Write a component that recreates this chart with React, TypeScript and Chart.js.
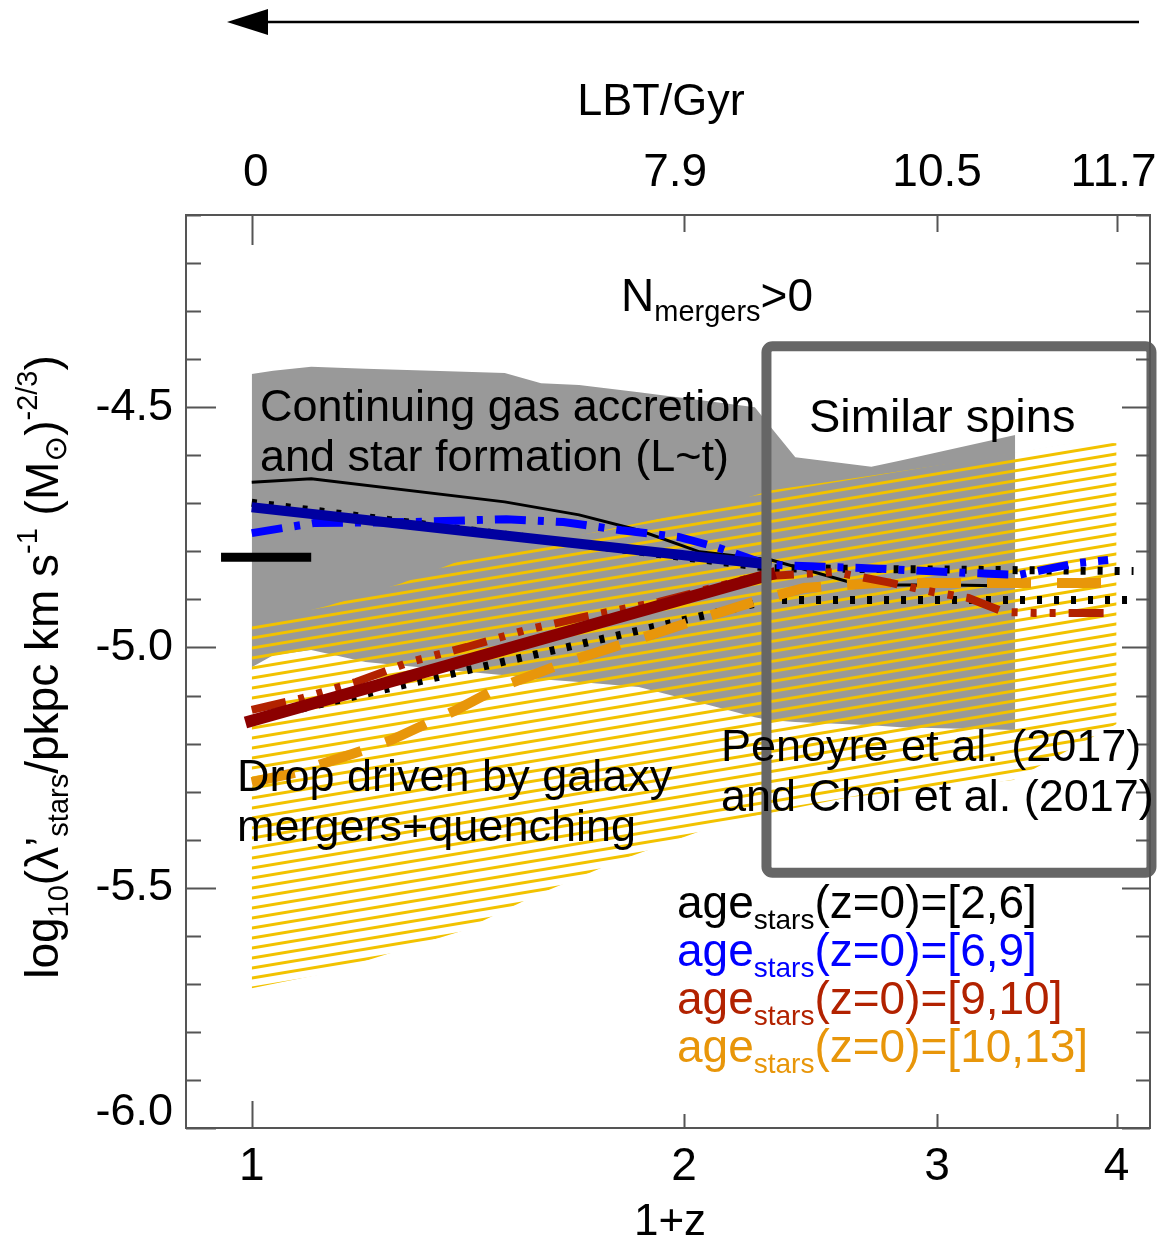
import React, { useEffect, useRef } from "react";
import { Chart, registerables } from "chart.js";

Chart.register(...registerables);

// ---------- data (x = 1+z, y = log10 lambda') ----------
const grayX = [1.0, 1.035, 1.1, 1.2, 1.37, 1.5, 1.59, 1.69, 1.86, 2.1, 2.24, 2.29, 2.39, 2.7, 2.83, 3.4];
const grayUpper = [-4.431, -4.424, -4.416, -4.42, -4.425, -4.429, -4.45, -4.454, -4.469, -4.489, -4.5, -4.536, -4.604, -4.624, -4.611, -4.558];
const grayLower = [-5.041, -5.016, -5.005, -5.03, -5.047, -5.058, -5.066, -5.072, -5.082, -5.123, -5.145, -5.151, -5.155, -5.162, -5.166, -5.172];

const hatchX = [1.0, 1.13, 1.27, 1.4, 1.57, 1.8, 2.13, 2.3, 2.61, 3.12, 3.39, 3.79, 4.0];
const hatchUpper = [-4.953, -4.913, -4.867, -4.818, -4.787, -4.75, -4.703, -4.673, -4.649, -4.614, -4.596, -4.572, -4.575];
const hatchLower = [-5.709, -5.677, -5.629, -5.59, -5.518, -5.444, -5.365, -5.344, -5.311, -5.287, -5.276, -5.197, -5.159];

const blackX = [1.0, 1.1, 1.5, 1.69, 1.86, 2.05, 2.3, 2.65, 3.06, 3.4];
const blackY = [-4.656, -4.649, -4.697, -4.724, -4.756, -4.801, -4.818, -4.87, -4.87, -4.872];

const blueSolidX = [1.0, 1.5, 2.0, 2.3];
const blueSolidY = [-4.708, -4.767, -4.808, -4.828];

const blueDashX = [1.0, 1.105, 1.289, 1.504, 1.648, 1.808, 1.982, 2.106, 2.286, 2.681, 3.154, 3.42, 3.604, 3.764, 3.946];
const blueDashY = [-4.762, -4.741, -4.739, -4.733, -4.739, -4.756, -4.77, -4.791, -4.828, -4.835, -4.845, -4.849, -4.835, -4.824, -4.818];

const redSolidX = [0.99, 2.315];
const redSolidY = [-5.156, -4.845];

const redDashX = [1.0, 1.086, 1.182, 1.289, 1.412, 1.55, 1.7, 1.921, 2.106, 2.242, 2.546, 2.769, 2.986, 3.154, 3.34, 3.504, 3.744, 3.962];
const redDashY = [-5.13, -5.105, -5.072, -5.03, -4.999, -4.964, -4.937, -4.905, -4.874, -4.853, -4.843, -4.864, -4.885, -4.897, -4.926, -4.928, -4.928, -4.928];

const orangeX = [1.0, 1.072, 1.198, 1.25, 1.388, 1.485, 1.658, 1.852, 2.069, 2.236, 2.424, 2.725, 3.068, 3.433, 4.0];
const orangeY = [-5.28, -5.261, -5.213, -5.193, -5.13, -5.084, -5.03, -4.984, -4.937, -4.905, -4.876, -4.866, -4.866, -4.866, -4.866];

const dotUpperX = [1.0, 2.3, 4.11];
const dotUpperY = [-4.699, -4.835, -4.841];
const dotLowerX = [1.0, 2.3, 4.11];
const dotLowerY = [-5.151, -4.901, -4.901];

const obsX = [0.952, 1.1];
const obsY = [-4.812, -4.812];

const boxX = [2.282, 4.23];
const boxY = [-4.373, -5.469];

const yTickValues = [-6.0, -5.5, -5.0, -4.5];
const yTickLabels = ["-6.0", "-5.5", "-5.0", "-4.5"];
const xTickValues = [1, 2, 3, 4];
const xTickLabels = ["1", "2", "3", "4"];
const lbtTickLabels = ["0", "7.9", "10.5", "11.7"];

const legendRanges = ["[2,6]", "[6,9]", "[9,10]", "[10,13]"];
const legendColors = ["#000000", "#0000ff", "#b22200", "#e8960a"];

const FONT = '"Liberation Sans", Arial, Helvetica, "DejaVu Sans", sans-serif';
const LBT_SHIFT = [4, -9, 0, -3];

type Part = { t: string; s: number; dy?: number };

function drawRich(ctx: CanvasRenderingContext2D, x: number, y: number, parts: Part[], center = false) {
  const widths = parts.map((p) => {
    ctx.font = `${p.s}px ${FONT}`;
    return ctx.measureText(p.t).width;
  });
  const total = widths.reduce((a, b) => a + b, 0);
  let cx = center ? x - total / 2 : x;
  parts.forEach((p, i) => {
    ctx.font = `${p.s}px ${FONT}`;
    ctx.fillText(p.t, cx, y + (p.dy || 0));
    cx += widths[i];
  });
}

function text(ctx: CanvasRenderingContext2D, t: string, x: number, y: number, size: number, align: CanvasTextAlign = "left") {
  ctx.font = `${size}px ${FONT}`;
  ctx.textAlign = align;
  ctx.fillText(t, x, y);
  ctx.textAlign = "left";
}

const decorPlugin = {
  id: "decor",
  afterDatasetDraw(chart: any, args: any) {
    if (args.index !== 0) return;
    const ctx: CanvasRenderingContext2D = chart.ctx;
    ctx.save();
    ctx.fillStyle = "#000";
    ctx.textBaseline = "alphabetic";
    text(ctx, "Continuing gas accretion", 260, 421, 45);
    text(ctx, "and star formation (L~t)", 260, 471, 45);
    ctx.restore();
  },
  afterDatasetsDraw(chart: any) {
    const ctx: CanvasRenderingContext2D = chart.ctx;
    const a = chart.chartArea;
    const xs = chart.scales.x;
    const ys = chart.scales.y;
    ctx.save();

    // highlighted box
    const bx0 = xs.getPixelForValue(boxX[0]);
    const bx1 = xs.getPixelForValue(boxX[1]);
    const by0 = ys.getPixelForValue(boxY[0]);
    const by1 = ys.getPixelForValue(boxY[1]);
    ctx.strokeStyle = "#666666";
    ctx.lineWidth = 10;
    ctx.lineJoin = "round";
    ctx.beginPath();
    (ctx as any).roundRect(bx0, by0, bx1 - bx0, by1 - by0, 6);
    ctx.stroke();

    // frame
    ctx.strokeStyle = "#555555";
    ctx.lineWidth = 2;
    ctx.lineJoin = "miter";
    ctx.strokeRect(a.left, a.top, a.right - a.left, a.bottom - a.top);

    // y ticks (major every 0.5, minor every 0.1)
    ctx.beginPath();
    for (let i = 0; i <= 19; i++) {
      const v = -6.0 + i * 0.1;
      const py = Math.round(ys.getPixelForValue(v)) + 0.5;
      const major = i % 5 === 0;
      const len = major ? 30 : 15;
      const rlen = major ? 28 : 14;
      ctx.moveTo(a.left, py);
      ctx.lineTo(a.left + len, py);
      ctx.moveTo(a.right, py);
      ctx.lineTo(a.right - rlen, py);
    }
    // x ticks
    xTickValues.forEach((v, i) => {
      const px = Math.round(xs.getPixelForValue(v)) + 0.5;
      ctx.moveTo(px, a.bottom);
      ctx.lineTo(px, a.bottom - (i === 0 ? 27 : 14));
      ctx.moveTo(px, a.top);
      ctx.lineTo(px, a.top + (i === 0 ? 30 : 17));
    });
    ctx.stroke();

    ctx.fillStyle = "#000";
    // y tick labels
    ctx.textBaseline = "middle";
    yTickValues.forEach((v, i) => {
      const py = ys.getPixelForValue(v) + (i === 0 ? -15 : 0);
      text(ctx, yTickLabels[i], 173, py, 45, "right");
    });
    // bottom / top tick labels
    ctx.textBaseline = "alphabetic";
    xTickValues.forEach((v, i) => {
      text(ctx, xTickLabels[i], xs.getPixelForValue(v), 1180, 46, "center");
      text(ctx, lbtTickLabels[i], xs.getPixelForValue(v) + LBT_SHIFT[i], 186, 46, "center");
    });
    text(ctx, "1+z", 670, 1235, 44, "center");
    text(ctx, "LBT/Gyr", 661, 115, 45, "center");

    // arrow
    ctx.strokeStyle = "#000";
    ctx.lineWidth = 2.5;
    ctx.beginPath();
    ctx.moveTo(262, 22);
    ctx.lineTo(1139, 22);
    ctx.stroke();
    ctx.beginPath();
    ctx.moveTo(227, 22);
    ctx.lineTo(268, 9);
    ctx.lineTo(268, 35);
    ctx.closePath();
    ctx.fill();

    // y axis title
    ctx.save();
    ctx.translate(58, 667);
    ctx.rotate(-Math.PI / 2);
    drawRich(
      ctx,
      0,
      0,
      [
        { t: "log", s: 46 },
        { t: "10", s: 29, dy: 10 },
        { t: "(λ’", s: 46 },
        { t: "stars", s: 29, dy: 10 },
        { t: "/pkpc km s", s: 46 },
        { t: "-1", s: 29, dy: -21 },
        { t: " (M", s: 46 },
        { t: "⊙", s: 31, dy: 8 },
        { t: ")", s: 46 },
        { t: "-2/3", s: 29, dy: -21 },
        { t: ")", s: 46 },
      ],
      true
    );
    ctx.restore();

    // annotations on top
    drawRich(ctx, 621, 311, [
      { t: "N", s: 46 },
      { t: "mergers", s: 29, dy: 10 },
      { t: ">0", s: 46 },
    ]);
    text(ctx, "Similar spins", 809, 432, 47);
    text(ctx, "Penoyre et al. (2017)", 721, 761, 45);
    text(ctx, "and Choi et al. (2017)", 721, 811, 45);
    text(ctx, "Drop driven by galaxy", 237, 791, 45);
    text(ctx, "mergers+quenching", 237, 841, 45);

    // legend
    legendRanges.forEach((r, i) => {
      ctx.fillStyle = legendColors[i];
      drawRich(ctx, 677, 918 + i * 48, [
        { t: "age", s: 46 },
        { t: "stars", s: 28, dy: 11 },
        { t: "(z=0)=" + r, s: 46 },
      ]);
    });

    ctx.restore();
  },
};

function makeHatch(): CanvasPattern | string {
  const c = document.createElement("canvas");
  c.width = 60;
  c.height = 10;
  const g = c.getContext("2d");
  if (!g) return "#f2c200";
  g.strokeStyle = "#f2c200";
  g.lineWidth = 3;
  for (let k = -1; k <= 2; k++) {
    g.beginPath();
    g.moveTo(-1, 10 * k + 10 + 1 / 6);
    g.lineTo(61, 10 * k - 1 / 6);
    g.stroke();
  }
  const p = g.createPattern(c, "repeat");
  return p || "#f2c200";
}

const mk = (xs: number[], ys: number[]) => xs.map((x, i) => ({ x, y: ys[i] }));

export default function App() {
  const ref = useRef<HTMLCanvasElement | null>(null);
  useEffect(() => {
    if (!ref.current) return;
    const hatch = makeHatch();
    const base = { pointRadius: 0, tension: 0, fill: false };
    const chart = new Chart(ref.current, {
      type: "line",
      data: {
        datasets: [
          { ...base, data: mk(grayX, grayUpper), borderWidth: 0, borderColor: "rgba(0,0,0,0)", fill: "+1", backgroundColor: "#999999", order: 20 },
          { ...base, data: mk(grayX, grayLower), borderWidth: 0, borderColor: "rgba(0,0,0,0)", order: 20 },
          { ...base, data: mk(hatchX, hatchUpper), borderWidth: 0, borderColor: "rgba(0,0,0,0)", fill: "+1", backgroundColor: hatch, order: 19 },
          { ...base, data: mk(hatchX, hatchLower), borderWidth: 0, borderColor: "rgba(0,0,0,0)", order: 19 },
          { ...base, data: mk(blackX, blackY), borderColor: "#000000", borderWidth: 3, order: 18 },
          { ...base, data: mk(dotUpperX, dotUpperY), borderColor: "#000000", borderWidth: 8, borderDash: [5, 12], borderCapStyle: "butt", order: 17 },
          { ...base, data: mk(dotLowerX, dotLowerY), borderColor: "#000000", borderWidth: 8, borderDash: [5, 12], borderCapStyle: "butt", order: 17 },
          { ...base, data: mk(orangeX, orangeY), borderColor: "#e8960a", borderWidth: 10, borderDash: [44, 26], borderCapStyle: "butt", order: 16 },
          { ...base, data: mk(redDashX, redDashY), borderColor: "#b22200", borderWidth: 8, borderDash: [35, 13, 6, 13, 6, 13, 6, 13], borderCapStyle: "butt", order: 15 },
          { ...base, data: mk(redSolidX, redSolidY), borderColor: "#8c0000", borderWidth: 12, order: 14 },
          { ...base, data: mk(blueDashX, blueDashY), borderColor: "#0000ff", borderWidth: 8, borderDash: [31, 12, 6, 12], borderCapStyle: "butt", order: 13 },
          { ...base, data: mk(blueSolidX, blueSolidY), borderColor: "#0000a0", borderWidth: 10, order: 12 },
          { ...base, data: mk(obsX, obsY), borderColor: "#000000", borderWidth: 9, clip: false, order: 11 },
        ] as any,
      },
      options: {
        responsive: false,
        animation: false,
        devicePixelRatio: 1,
        events: [],
        layout: { padding: { left: 186, right: 18, top: 215, bottom: 111 } },
        plugins: {
          legend: { display: false },
          tooltip: { enabled: false },
          filler: { propagate: false },
        },
        scales: {
          x: { type: "logarithmic", min: 0.9, max: 4.22, display: false },
          y: { type: "linear", min: -6.0, max: -4.1, display: false },
        },
      } as any,
      plugins: [decorPlugin as any],
    });
    return () => chart.destroy();
  }, []);
  return (
    <div style={{ position: "absolute", left: 0, top: 0, width: 1168, height: 1239, background: "#fff" }}>
      <canvas ref={ref} width={1168} height={1239} style={{ display: "block" }} />
    </div>
  );
}
